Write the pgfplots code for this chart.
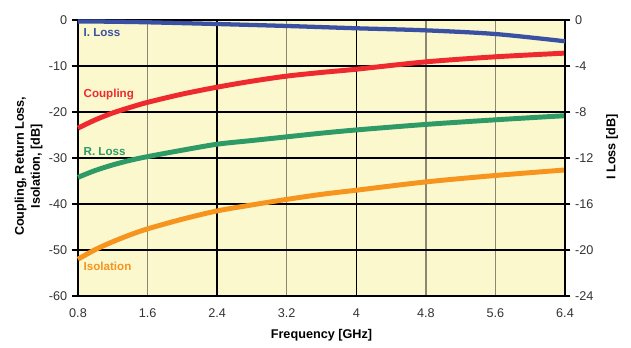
\documentclass[border=0pt]{standalone}
\usepackage{fontspec}
\setmainfont{Liberation Sans}
\usepackage{pgfplots}
\pgfplotsset{compat=1.18}
\definecolor{bg}{HTML}{FCF8CE}
\definecolor{cblue}{HTML}{3A51A3}
\definecolor{cred}{HTML}{EE2A2E}
\definecolor{cgreen}{HTML}{2E9A66}
\definecolor{corange}{HTML}{F7941D}
\definecolor{vgrid}{HTML}{8C8672}
\definecolor{txt}{HTML}{333333}
\begin{document}
\begin{tikzpicture}
\begin{axis}[
  at={(0,0)}, anchor=south west,
  scale only axis, width=365.25pt, height=207pt,
  xmin=0.8, xmax=6.4, ymin=-60, ymax=0,
  axis background/.style={fill=bg},
  axis line style={black, line width=1.2pt},
  xtick={0.8,1.6,3.2,4.8,5.6,6.4},
  xticklabels={0.8,1.6,3.2,4.8,5.6,6.4},
  extra x ticks={2.4,4.0},
  extra x tick labels={2.4,4},
  extra x tick style={xtick style={draw=none}, x grid style={black, line width=1.0pt}},
  ytick={-60,-50,-40,-30,-20,-10,0},
  yticklabels={-60,-50,-40,-30,-20,-10,0},
  xtick pos=bottom, ytick pos=left,
  tick align=outside,
  major tick length=4.5pt,
  xtick style={draw=none},
  ytick style={black, line width=0.8pt},
  xmajorgrids, ymajorgrids,
  x grid style={vgrid, line width=1.1pt},
  y grid style={black, line width=0.9pt},
  ticklabel style={font=\fontsize{9.5}{11}\selectfont, text=txt},
  xticklabel style={yshift=-1.5pt},
  ylabel={Coupling, Return Loss,\\Isolation, [dB]},
  every axis y label/.style={at={(axis description cs:0,0.47)}, xshift=-37pt, rotate=90, anchor=center, align=center, font=\bfseries\fontsize{9.5}{12}\selectfont},
  xlabel={Frequency [GHz]},
  every axis x label/.style={at={(axis description cs:0.5,0)}, yshift=-29.25pt, anchor=center, font=\bfseries\fontsize{9.5}{11}\selectfont},
  clip=false,
]
\addplot[cred, line width=3.7pt, smooth] coordinates {
 (0.8,-23.5) (1.0,-21.7) (1.2,-20.2) (1.4,-19.0) (1.6,-17.9) (2.0,-16.1) (2.4,-14.6) (2.8,-13.3) (3.2,-12.2) (3.6,-11.4) (4.0,-10.7) (4.8,-9.1) (5.6,-8.0) (6.4,-7.2)};
\addplot[cgreen, line width=3.7pt, smooth] coordinates {
 (0.8,-34.2) (1.0,-32.7) (1.2,-31.5) (1.4,-30.5) (1.6,-29.7) (2.0,-28.3) (2.4,-27.0) (2.8,-26.2) (3.2,-25.4) (3.6,-24.6) (4.0,-23.9) (4.8,-22.7) (5.6,-21.7) (6.4,-20.8)};
\addplot[corange, line width=3.7pt, smooth] coordinates {
 (0.8,-52.0) (1.0,-49.9) (1.2,-48.2) (1.4,-46.7) (1.6,-45.4) (2.0,-43.3) (2.4,-41.5) (2.8,-40.2) (3.2,-39.0) (3.6,-37.9) (4.0,-37.0) (4.8,-35.2) (5.6,-33.8) (6.4,-32.6)};
\node[anchor=west, text=cblue, font=\bfseries\fontsize{8.7}{10}\selectfont] at (axis cs:0.8,-2.8) {\hspace{0.7pt}I. Loss};
\node[anchor=west, text=cred, font=\bfseries\fontsize{8.7}{10}\selectfont] at (axis cs:0.8,-16.3) {\hspace{0.7pt}Coupling};
\node[anchor=west, text=cgreen, font=\bfseries\fontsize{8.7}{10}\selectfont] at (axis cs:0.8,-28.7) {\hspace{0.7pt}R. Loss};
\node[anchor=west, text=corange, font=\bfseries\fontsize{8.7}{10}\selectfont] at (axis cs:0.8,-53.5) {\hspace{0.7pt}Isolation};
\end{axis}
\begin{axis}[
  at={(0,0)}, anchor=south west,
  scale only axis, width=365.25pt, height=207pt,
  xmin=0.8, xmax=6.4, ymin=-24, ymax=0,
  axis x line=none, axis y line*=right,
  axis line style={black, line width=1.2pt},
  ytick={-24,-20,-16,-12,-8,-4,0},
  yticklabels={-24,-20,-16,-12,-8,-4,0},
  tick align=outside, major tick length=4pt,
  ytick style={black, line width=0.8pt},
  ticklabel style={font=\fontsize{9.5}{11}\selectfont, text=txt},
  ylabel={I Loss [dB]},
  every axis y label/.style={at={(axis description cs:1,0.54)}, xshift=35.25pt, rotate=90, anchor=center, font=\bfseries\fontsize{9.5}{11}\selectfont},
  clip=false,
]
\addplot[cblue, line width=3.2pt, smooth] coordinates {
 (0.8,-0.12) (1.2,-0.15) (1.6,-0.2) (2.4,-0.35) (3.2,-0.52) (4.0,-0.72) (4.8,-0.9) (5.6,-1.22) (6.4,-1.85)};
\end{axis}
\pgfresetboundingbox
\path (-58.5pt,-39pt) rectangle (414.75pt,222pt);
\end{tikzpicture}
\end{document}
